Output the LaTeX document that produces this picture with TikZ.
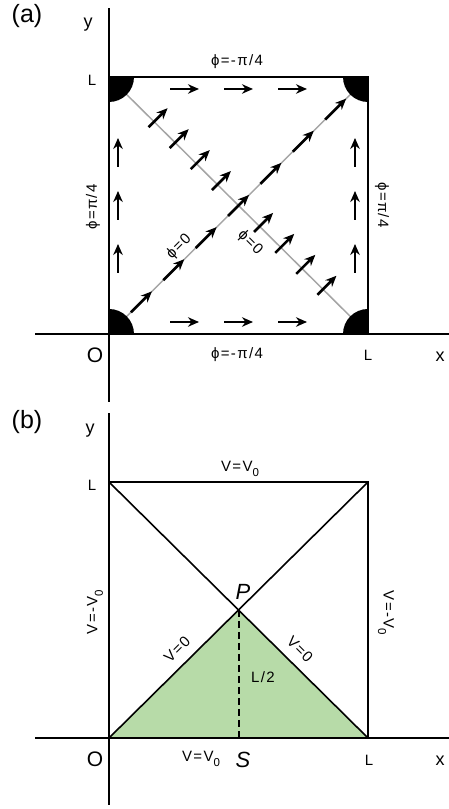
\documentclass[tikz,border=0pt]{standalone}
\usepackage{fontspec}
\setmainfont{Liberation Sans}
\newfontfamily\lblfont[LetterSpace=9]{Liberation Sans}
\usepackage{tikz}
\usetikzlibrary{arrows.meta, positioning}
\definecolor{regiongreen}{RGB}{183,219,168}
\definecolor{diaggray}{RGB}{165,165,165}
\newcommand{\subzero}{\raisebox{-5.5pt}{\fontsize{11.5}{11}\selectfont 0}}

\tikzset{
  wall/.style={line width=2pt},
  axisline/.style={line width=2pt},
  diagline/.style={line width=1.5pt, diaggray},
  crossline/.style={line width=1.6pt},
  fieldarrow/.style={line width=2.6pt, -{Stealth[length=11pt,width=9.5pt]}},
  lbl/.style={font=\lblfont\fontsize{15}{17}\selectfont, inner sep=0pt},
  Llbl/.style={font=\fontsize{15}{17}\selectfont, inner sep=0pt},
  axlbl/.style={font=\fontsize{18}{20}\selectfont, inner sep=0pt},
  Olbl/.style={font=\fontsize{21}{24}\selectfont, inner sep=0pt},
  ptlbl/.style={font=\itshape\fontsize{22}{24}\selectfont, inner sep=0pt},
  panellbl/.style={font=\fontsize{25}{28}\selectfont, inner sep=0pt}
}

\begin{document}
\begin{tikzpicture}[x=1pt,y=1pt]
\useasboundingbox (0,0) rectangle (449,809);

% (a)
\begin{scope}[shift={(109,475)}]
  \coordinate (O) at (0,0);
  \coordinate (BR) at (259,0);
  \coordinate (TR) at (259,257);
  \coordinate (TL) at (0,257);
  \coordinate (xbeg) at (-74,0);
  \coordinate (xend) at (340,0);
  \coordinate (ybeg) at (0,-68);
  \coordinate (yend) at (0,326);

  \draw[diagline] (TL) -- (BR);
  \draw[diagline] (O) -- (TR);
  \foreach \c/\a in {TL/-90,TR/180,O/0,BR/90}
    \fill (\c) -- ++(\a:25) arc[start angle=\a, delta angle=90, radius=25] -- cycle;
  \draw[wall] (TL) -- (TR) -- (BR);
  \draw[axisline] (xbeg) -- (xend);
  \draw[axisline] (ybeg) -- (yend);

  \foreach \s in {0,1,2} {
    \draw[fieldarrow] (61+54*\s,245) -- ++(29,0);
    \draw[fieldarrow] (61+54*\s,12) -- ++(29,0);
    \draw[fieldarrow] (9,61+53*\s) -- ++(0,29);
    \draw[fieldarrow] (246,61+53*\s) -- ++(0,29);
  }
  \foreach \k in {1,...,7}
    \draw[fieldarrow] ({259*\k/8-10.5},{257*\k/8-10.5}) -- ++(21,21);
  \foreach \d in {-4,-3,-2,-1,1,2,3,4} {
    \pgfmathsetmacro\t{0.5+0.0815*\d}
    \draw[fieldarrow] ({259*\t-5.5},{257*(1-\t)-5.5}) -- ++(19,19);
  }

  \node[lbl] (phitop) at (128,272) {ϕ=-π/4};
  \node[lbl] (phibot) at (128,-21) {ϕ=-π/4};
  \node[lbl,rotate=90] (phileft) at (-16,127) {ϕ=π/4};
  \node[lbl,rotate=-90] (phiright) at (273,129) {ϕ=π/4};
  \node[lbl,rotate=45] (phiup) at (70,87) {ϕ=0};
  \node[lbl,rotate=-45] (phidown) at (141,91) {ϕ=0};
  \node[axlbl] (xa) at (331,-23) {x};
  \node[axlbl] (ya) at (-21,309) {y};
  \node[Llbl] (Ltop) at (-17,254) {L};
  \node[Llbl] (Lright) at (259,-21) {L};
  \node[Olbl] (Oa) at (-14,-21) {O};
  \node[panellbl] (pa) at (-82,318) {(a)};
\end{scope}

% (b)
\begin{scope}[shift={(109,71)}]
  \coordinate (O) at (0,0);
  \coordinate (BR) at (259,0);
  \coordinate (TR) at (259,256);
  \coordinate (TL) at (0,256);
  \coordinate (P) at (129.5,128);
  \coordinate (S) at (129.5,0);
  \coordinate (xbeg) at (-74,0);
  \coordinate (xend) at (340,0);
  \coordinate (ybeg) at (0,-67);
  \coordinate (yend) at (0,325);

  \fill[regiongreen] (O) -- (P) -- (BR) -- cycle;
  \draw[line width=2pt, dash pattern=on 7pt off 4pt] (P) -- (S);
  \draw[crossline] (TL) -- (BR);
  \draw[crossline] (O) -- (TR);
  \draw[wall] (TL) -- (TR) -- (BR);
  \draw[axisline] (xbeg) -- (xend);
  \draw[axisline] (ybeg) -- (yend);

  \node[lbl] (Vtop) at (131,269) {V=V\subzero};
  \node[lbl] (Vbot) at (92,-21) {V=V\subzero};
  \node[lbl,rotate=90] (Vleft) at (-14,126) {V=-V\subzero};
  \node[lbl,rotate=-90] (Vright) at (277,125) {V=-V\subzero};
  \node[lbl,rotate=45] (Vup) at (68,89) {V=0};
  \node[lbl,rotate=-45] (Vdown) at (191,89) {V=0};
  \node[lbl] (half) at (154,61) {L/2};
  \node[ptlbl] (Plbl) at (134,146) {P};
  \node[ptlbl] (Slbl) at (134,-22) {S};
  \node[axlbl] (xb) at (331,-23) {x};
  \node[axlbl] (yb) at (-19,307) {y};
  \node[Llbl] (Ltopb) at (-17,253) {L};
  \node[Llbl] (Lrightb) at (260,-22) {L};
  \node[Olbl] (Ob) at (-14,-21) {O};
  \node[panellbl] (pb) at (-82,316) {(b)};
\end{scope}
\end{tikzpicture}
\end{document}
